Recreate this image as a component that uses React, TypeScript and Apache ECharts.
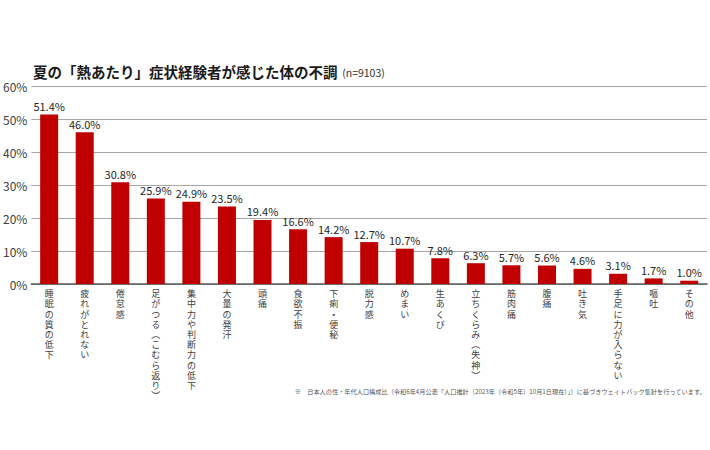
import React, { useEffect, useRef } from "react";
import * as echarts from "echarts";

const categories = [
  "睡眠の質の低下",
  "疲れがとれない",
  "倦怠感",
  "足がつる（こむら返り）",
  "集中力や判断力の低下",
  "大量の発汗",
  "頭痛",
  "食欲不振",
  "下痢・便秘",
  "脱力感",
  "めまい",
  "生あくび",
  "立ちくらみ（失神）",
  "筋肉痛",
  "腹痛",
  "吐き気",
  "手足に力が入らない",
  "嘔吐",
  "その他",
];
const values = [51.4, 46.0, 30.8, 25.9, 24.9, 23.5, 19.4, 16.6, 14.2, 12.7, 10.7, 7.8, 6.3, 5.7, 5.6, 4.6, 3.1, 1.7, 1.0];
const titleText = "夏の「熱あたり」症状経験者が感じた体の不調";
const sampleText = "(n=9103)";
const footnote =
  "※　日本人の性・年代人口構成比（令和6年4月公表「人口推計（2023年（令和5年）10月1日現在）」）に基づきウェイトバック集計を行っています。";

const FONT = '"Noto Sans CJK JP", "Noto Sans", sans-serif';
const LABEL_FONT = '"Liberation Sans", "Noto Sans CJK JP", sans-serif';

const verticalize = (s: string) =>
  s
    .split("")
    .map((c) => (c === "（" ? "︵" : c === "）" ? "︶" : c))
    .join("\n");

export default function App() {
  const ref = useRef<HTMLDivElement>(null);
  useEffect(() => {
    document.body.style.margin = "0";
    const chart = echarts.init(ref.current!, null, { renderer: "svg" });
    chart.setOption({
      animation: false,
      backgroundColor: "#ffffff",
      textStyle: { fontFamily: FONT },
      title: {
        text: `{a|${titleText}}{b|  ${sampleText}}`,
        left: 28,
        top: 59,
        textStyle: {
          rich: {
            a: { fontSize: 14.5, fontWeight: "bold", color: "#1a1a1a", fontFamily: FONT },
            b: { fontSize: 10.5, fontWeight: "normal", color: "#333", fontFamily: FONT, padding: [3, 0, 0, 0] },
          },
        },
      },
      graphic: [
        {
          type: "text",
          right: 4,
          top: 388,
          style: {
            text: footnote,
            fontSize: 6.2,
            fill: "#555",
            fontFamily: FONT,
          },
        },
      ],
      grid: { left: 29, right: 3, top: 86, height: 198, containLabel: false },
      xAxis: {
        type: "category",
        data: categories,
        axisLine: { lineStyle: { color: "#595959", width: 1.5 } },
        axisTick: { show: false },
        axisLabel: {
          interval: 0,
          margin: 5,
          fontSize: 9,
          lineHeight: 10.2,
          fontFamily: LABEL_FONT,
          color: "#404040",
          verticalAlign: "top",
          formatter: (v: string) => verticalize(v),
        },
      },
      yAxis: {
        type: "value",
        min: 0,
        max: 60,
        interval: 10,
        axisLine: { show: false },
        axisTick: { show: false },
        axisLabel: {
          formatter: "{value}%",
          fontSize: 12,
          color: "#404040",
          margin: 4,
        },
        splitLine: { lineStyle: { color: "#a6a6a6", width: 1.2 } },
      },
      series: [
        {
          type: "bar",
          data: values,
          barWidth: 18,
          itemStyle: { color: "#c00000" },
          label: {
            show: true,
            position: "top",
            distance: 3,
            fontSize: 11,
            color: "#262626",
            formatter: (p: any) => `${p.value.toFixed(1)}%`,
          },
        },
      ],
    });
    return () => chart.dispose();
  }, []);
  return <div ref={ref} style={{ width: 710, height: 450 }} />;
}
